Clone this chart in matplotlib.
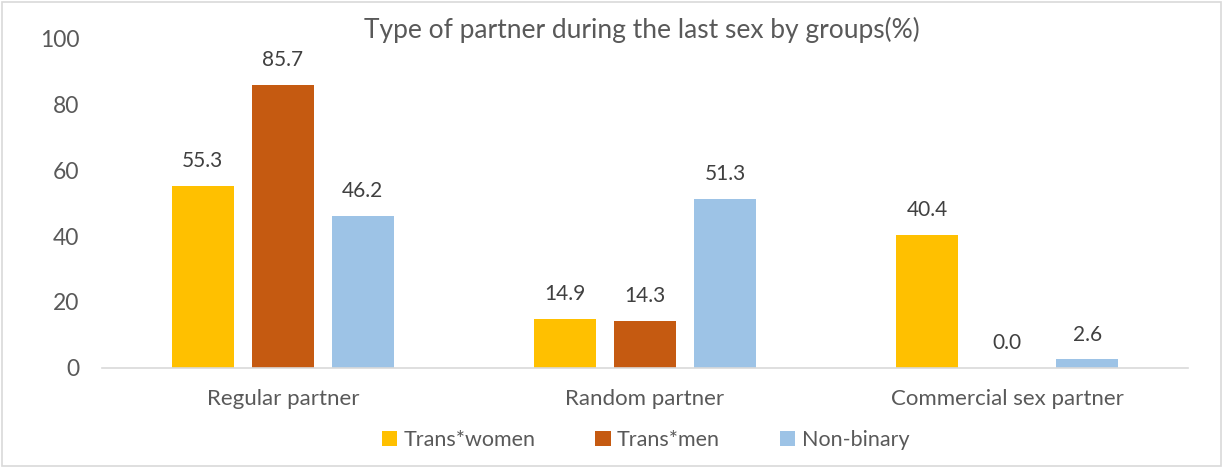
import numpy as np
import matplotlib.pyplot as plt
from matplotlib.patches import Rectangle

categories = ["Regular partner", "Random partner", "Commercial sex partner"]
groups = ["Trans*women", "Trans*men", "Non-binary"]
trans_women = [55.3, 14.9, 40.4]
trans_men = [85.7, 14.3, 0.0]
non_binary = [46.2, 51.3, 2.6]

colors = ["#FFC000", "#C55A11", "#9DC3E6"]
txt = "#595959"

plt.rcParams["font.family"] = ["Lato", "DejaVu Sans"]

fig = plt.figure(figsize=(12.25, 4.67), dpi=100)
ax = fig.add_axes([0.083, 0.212, 0.887, 0.7066])

x = np.arange(len(categories))
w = 0.171
step = 0.221
series = [trans_women, trans_men, non_binary]
for i, (vals, c, lbl) in enumerate(zip(series, colors, groups)):
    pos = x + (i - 1) * step
    ax.bar(pos, vals, width=w, color=c, label=lbl, zorder=2)
    for px, v in zip(pos, vals):
        ax.text(px, v + 4.5, f"{v:.1f}", ha="center", va="bottom",
                fontsize=15, color="#404040")

ax.set_xlim(-0.5, 2.5)
ax.set_ylim(0, 100)
ax.set_yticks(range(0, 101, 20))
ax.set_xticks(x)
ax.set_xticklabels(categories)
ax.tick_params(axis="x", length=0, labelsize=16, colors=txt, pad=15)
ax.tick_params(axis="y", length=0, labelsize=16.5, colors=txt, pad=16)
for s in ["top", "right", "left"]:
    ax.spines[s].set_visible(False)
ax.spines["bottom"].set_color("#D9D9D9")
ax.spines["bottom"].set_linewidth(1.2)

fig.text(0.524, 0.936, "Type of partner during the last sex by groups(%)",
         ha="center", va="center", fontsize=19, color=txt)

fig.legend(loc="center", bbox_to_anchor=(0.527, 0.057), ncol=3, frameon=False,
           fontsize=15.5, labelcolor=txt, handlelength=0.7, handleheight=0.7,
           handletextpad=0.3, columnspacing=2.8)

fig.patches.append(Rectangle((0.002, 0.003), 0.995, 0.993, transform=fig.transFigure,
                             fill=False, edgecolor="#D9D9D9", linewidth=1.2))

fig.savefig("out.png", dpi=100)
